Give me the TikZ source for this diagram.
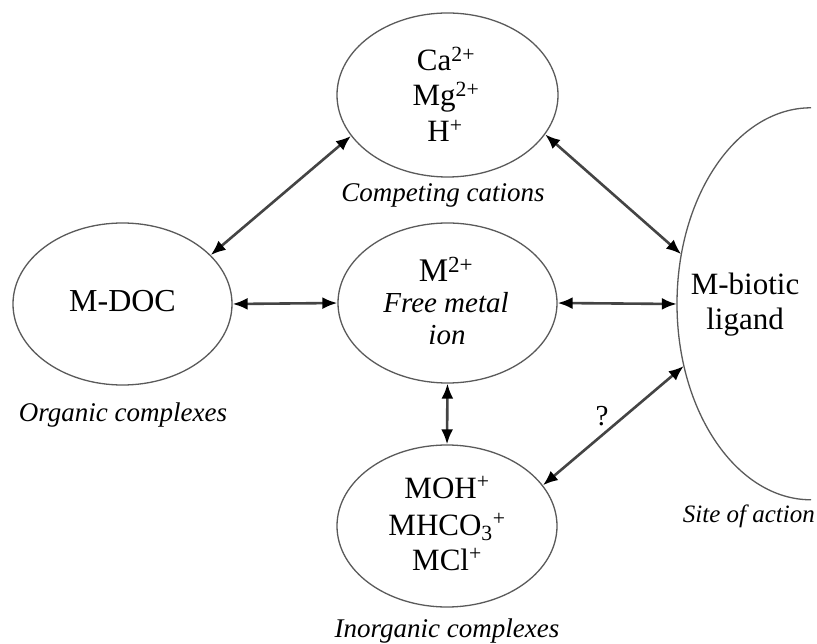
\documentclass[tikz,border=0pt]{standalone}
\usepackage{fontspec}
\setmainfont{Liberation Serif}
\usetikzlibrary{arrows.meta,shapes.geometric}
\definecolor{ellgray}{HTML}{5A5A5A}
\definecolor{linkgray}{HTML}{444444}
\begin{document}
\begin{tikzpicture}[x=1pt,y=-1pt,
  ell/.style={ellipse, draw=ellgray, line width=1.3pt, inner sep=0pt},
  lbl/.style={anchor=base, inner sep=0pt, font=\fontsize{27}{30}\selectfont\itshape},
  txt/.style={anchor=base, inner sep=0pt, font=\fontsize{31}{34}\selectfont},
  link/.style={draw=linkgray, line width=2.6pt,
    {Latex[length=15pt,width=12pt,color=black]}-{Latex[length=15pt,width=12pt,color=black]}}
]
\useasboundingbox (0,0) rectangle (817,644);
\fill[white] (0,0) rectangle (817,644);
\clip (0,0) rectangle (817,644);

% ellipses
\node[ell, minimum width=221pt, minimum height=164pt] (cat) at (447.5,95) {};
\node[ell, minimum width=219pt, minimum height=162pt] (doc) at (122.5,304) {};
\node[ell, minimum width=219pt, minimum height=160pt] (free) at (447.5,303) {};
\node[ell, minimum width=220pt, minimum height=162pt] (inorg) at (447,526) {};
\node[ellipse, inner sep=0pt, minimum width=268pt, minimum height=392pt] (site) at (811,304) {};
\draw[ellgray, line width=1.3pt] (site.north) arc[start angle=-90, end angle=-270, x radius=134, y radius=196];

% texts
\node[txt] (ca) at (446,71) {Ca\textsuperscript{2+}};
\node[txt] (mg) at (446,106) {Mg\textsuperscript{2+}};
\node[txt] (h) at (445,142) {H\textsuperscript{+}};
\node[lbl] (catl) at (443,202) {Competing cations};

\node[txt, font=\fontsize{32}{35}\selectfont] (mdoc) at (122.5,312) {M-DOC};
\node[lbl] (docl) at (123,421) {Organic complexes};

\node[txt, font=\fontsize{33}{36}\selectfont] (m2) at (446,282) {M\textsuperscript{2+}};
\node[lbl, font=\fontsize{29}{32}\selectfont\itshape] (fm) at (446,313) {Free metal};
\node[lbl, font=\fontsize{29}{32}\selectfont\itshape] (ion) at (447,345) {ion};

\node[txt] (moh) at (447,498) {MOH\textsuperscript{+}};
\node[txt] (mhco) at (447,535) {MHCO\textsubscript{3}\textsuperscript{+}};
\node[txt] (mcl) at (447,570) {MCl\textsuperscript{+}};
\node[lbl] (inl) at (447,637) {Inorganic complexes};

\node[txt] (mb) at (745,295) {M-biotic};
\node[txt] (lig) at (745,330) {ligand};
\node[lbl, anchor=base east, font=\fontsize{25}{28}\selectfont\itshape] (sitel) at (815,522) {Site of action};
\node[txt, font=\fontsize{29}{30}\selectfont] (q) at (602,425) {?};

% connectors
\draw[link] (cat.203) -- (doc.29);
\draw[link] (cat.-22) -- (site.159);
\draw[link] (doc.east) -- (free.west);
\draw[link] (free.east) -- (site.west);
\draw[link] (free.south) -- (inorg.north);
\draw[link] (site.206) -- (inorg.23);
\end{tikzpicture}
\end{document}
